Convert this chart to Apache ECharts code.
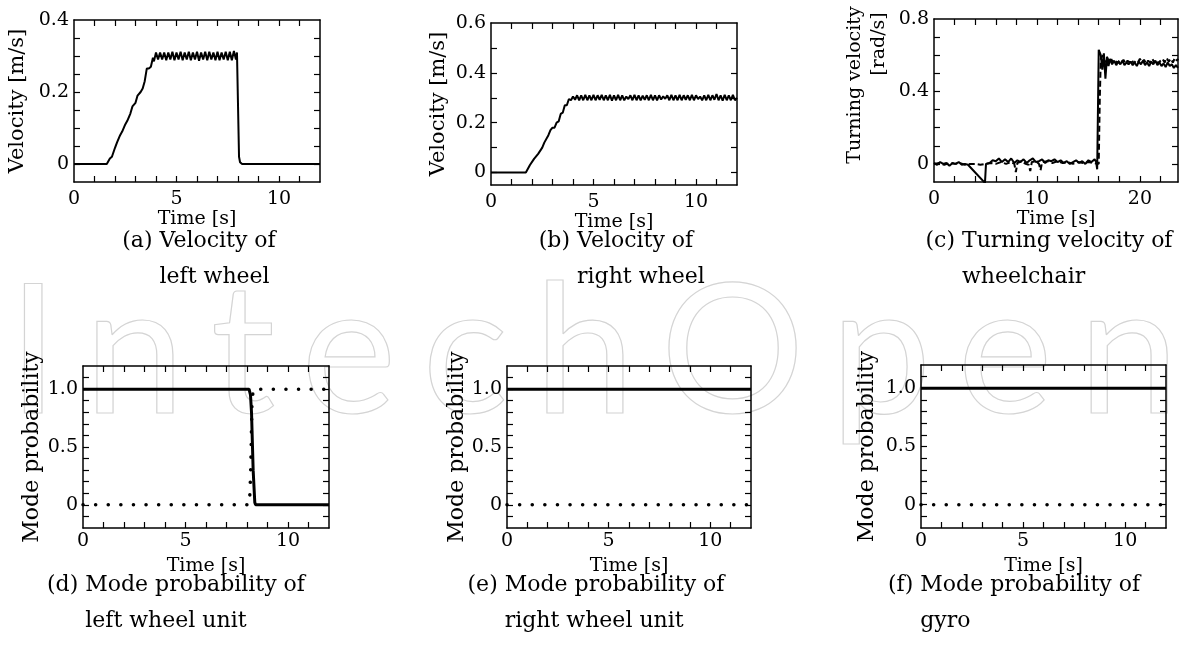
<!DOCTYPE html>
<html>
<head>
<meta charset="utf-8">
<script src="https://cdn.jsdelivr.net/npm/echarts@6/dist/echarts.min.js"></script>
<style>html,body{margin:0;padding:0;background:#fff;}</style>
</head>
<body>
<div id="main" style="width:1186px;height:656px;"></div>
<script type="text/javascript">
// (a) velocity of left wheel [t, m/s]
var leftWheel = [[0,0],[1.6,0],[1.75,0.015],[1.85,0.02],[2.0,0.045],[2.1,0.06],[2.25,0.08],[2.35,0.09],[2.5,0.11],[2.6,0.12],
  [2.75,0.14],[2.85,0.16],[3.0,0.17],[3.1,0.19],[3.25,0.2],[3.35,0.21],[3.45,0.23],[3.55,0.265],[3.65,0.265],[3.75,0.27],
  [3.85,0.295],[3.9,0.285],[4.0,0.31],[4.1,0.29],[4.2,0.31],[4.3,0.29],[4.4,0.31],[4.5,0.288],[4.6,0.31],[4.7,0.29],
  [4.8,0.312],[4.9,0.288],[5.0,0.31],[5.1,0.29],[5.2,0.312],[5.3,0.288],[5.4,0.31],[5.5,0.29],[5.6,0.312],[5.7,0.288],
  [5.8,0.31],[5.9,0.29],[6.0,0.312],[6.1,0.287],[6.2,0.31],[6.3,0.29],[6.4,0.312],[6.5,0.288],[6.6,0.312],[6.7,0.29],
  [6.8,0.31],[6.9,0.288],[7.0,0.312],[7.1,0.288],[7.2,0.31],[7.3,0.29],[7.4,0.312],[7.5,0.288],[7.6,0.312],[7.7,0.288],
  [7.8,0.314],[7.9,0.29],[7.95,0.31],[8.05,0.02],[8.1,0.005],[8.2,0],[12,0]];

// (b) velocity of right wheel
var rightWheel = [[0,0],[1.7,0],[1.9,0.03],[2.1,0.055],[2.3,0.075],[2.5,0.1],[2.6,0.12],[2.8,0.15],[2.9,0.17],[3.0,0.18],
  [3.1,0.18],[3.2,0.2],[3.3,0.205],[3.4,0.235],[3.5,0.24],[3.6,0.27],[3.7,0.27],[3.8,0.295],[3.9,0.29],[4.0,0.305],
  [4.1,0.292],[4.2,0.31],[4.3,0.29],[4.4,0.31],[4.5,0.29],[4.6,0.312],[4.7,0.29],[4.8,0.31],[4.9,0.29],[5.0,0.312],
  [5.1,0.29],[5.2,0.31],[5.3,0.292],[5.4,0.312],[5.5,0.29],[5.6,0.31],[5.7,0.29],[5.8,0.312],[5.9,0.288],[6.0,0.31],
  [6.1,0.29],[6.2,0.312],[6.3,0.29],[6.4,0.31],[6.5,0.29],[6.6,0.305],[6.7,0.295],[6.8,0.31],[6.9,0.29],[7.0,0.312],
  [7.1,0.29],[7.2,0.31],[7.3,0.29],[7.4,0.308],[7.5,0.292],[7.6,0.31],[7.7,0.29],[7.8,0.312],[7.9,0.29],[8.0,0.31],
  [8.1,0.29],[8.2,0.31],[8.3,0.293],[8.4,0.306],[8.5,0.296],[8.6,0.31],[8.7,0.29],[8.8,0.312],[8.9,0.29],[9.0,0.31],
  [9.1,0.29],[9.2,0.312],[9.3,0.29],[9.4,0.31],[9.5,0.292],[9.6,0.31],[9.7,0.29],[9.8,0.312],[9.9,0.29],[10.0,0.31],
  [10.1,0.295],[10.2,0.305],[10.3,0.29],[10.4,0.31],[10.5,0.29],[10.6,0.312],[10.7,0.29],[10.8,0.31],[10.9,0.292],[11.0,0.315],
  [11.1,0.29],[11.2,0.31],[11.3,0.288],[11.4,0.312],[11.5,0.29],[11.6,0.31],[11.7,0.29],[11.8,0.312],[11.9,0.29],[12.0,0.3]];

// (c) turning velocity of wheelchair: solid and dashed curves [t, rad/s]
var turnSolid = [[0,0.005],[0.3,-0.005],[0.6,0.01],[0.9,0],[1.2,0.005],[1.5,-0.01],[1.8,0.005],[2.1,0],[2.4,0.01],[2.7,-0.005],
  [3.0,0],[3.3,-0.005],[4.95,-0.105],[5.05,0],[5.4,0.005],[5.7,0.02],[6.0,0.015],[6.3,0.03],[6.6,0.01],[6.9,0.025],
  [7.2,0.01],[7.5,0.03],[7.8,0.005],[8.1,0.02],[8.4,0.01],[8.7,0.025],[9.0,0.005],[9.3,0.02],[9.6,0.03],[9.9,0.01],
  [10.2,0.015],[10.5,0.025],[10.8,0.005],[11.1,0.02],[11.4,0.015],[11.7,0.025],[12.0,0.01],[12.3,0.02],[12.6,0.005],[12.9,0.015],
  [13.2,0],[13.5,0.01],[13.8,0.02],[14.1,0.005],[14.4,0.015],[14.7,0],[15.0,0.02],[15.3,0.01],[15.6,0.025],[15.75,0.01],
  [15.85,-0.03],[16.0,0.63],[16.2,0.6],[16.35,0.52],[16.5,0.61],[16.65,0.47],[16.8,0.59],[16.95,0.54],[17.1,0.58],[17.3,0.55],
  [17.5,0.57],[17.7,0.545],[17.9,0.565],[18.1,0.55],[18.3,0.57],[18.5,0.545],[18.7,0.56],[18.9,0.55],[19.1,0.565],[19.3,0.545],
  [19.5,0.56],[19.7,0.54],[19.9,0.565],[20.1,0.55],[20.3,0.57],[20.5,0.545],[20.7,0.56],[20.9,0.54],[21.1,0.565],[21.3,0.55],
  [21.5,0.57],[21.7,0.545],[21.9,0.56],[22.1,0.54],[22.3,0.555],[22.5,0.535],[22.7,0.56],[22.9,0.54],[23.1,0.55],[23.3,0.53],
  [23.5,0.545],[23.7,0.53]];
var turnDashed = [[0,0],[0.5,0.005],[1.0,-0.005],[1.5,0.005],[2.0,0],[2.5,0.005],[3.0,-0.005],[3.5,0],[4.0,0],[4.5,-0.005],
  [5.0,0],[5.5,0.005],[6.0,0],[6.5,0.01],[7.0,0],[7.5,0.01],[7.8,0],[7.95,-0.045],[8.1,0.005],[8.5,0.015],
  [8.9,0],[9.2,-0.005],[9.35,-0.04],[9.5,0.01],[9.9,0.015],[10.2,0],[10.35,-0.035],[10.5,0.01],[11.0,0.015],[11.5,0.005],
  [12.0,0.015],[12.5,0.005],[13.0,0.01],[13.5,0],[14.0,0.01],[14.5,0.005],[15.0,0.01],[15.5,0.005],[16.0,0],[16.1,0.35],
  [16.2,0.58],[16.4,0.6],[16.6,0.56],[16.8,0.59],[17.0,0.565],[17.2,0.58],[17.4,0.56],[17.6,0.575],[17.8,0.555],[18.0,0.57],
  [18.2,0.56],[18.4,0.575],[18.6,0.555],[18.8,0.57],[19.0,0.56],[19.2,0.575],[19.4,0.555],[19.6,0.57],[19.8,0.56],[20.0,0.58],
  [20.2,0.56],[20.4,0.575],[20.6,0.555],[20.8,0.57],[21.0,0.56],[21.2,0.58],[21.4,0.56],[21.6,0.575],[21.8,0.555],[22.0,0.57],
  [22.2,0.58],[22.4,0.56],[22.6,0.585],[22.8,0.565],[23.0,0.58],[23.2,0.56],[23.4,0.585],[23.6,0.57],[23.7,0.58]];

// (d)(e)(f) mode probabilities: solid = normal mode, dotted = fault mode
var modeLeftSolid = [[0,1],[1.9,1],[1.95,0.985],[2.0,1],[8.1,1],[8.17,0.95],[8.22,0.8],[8.3,0.3],[8.38,0.02],[8.42,0],[12,0]];
var modeLeftDotted = [[0,0],[8.12,0],[8.18,0.3],[8.24,0.85],[8.3,1],[12,1]];
var modeRightSolid = [[0,1],[1.85,1],[1.9,0.99],[1.95,1],[12,1]];
var modeRightDotted = [[0,0],[12,0]];
var modeGyroSolid = [[0,1],[8.1,1],[8.15,0.99],[8.2,1],[12,1]];
var modeGyroDotted = [[0,0],[12,0]];

// tick positions and labelled values
var secTicks12 = [1,2,3,4,5,6,7,8,9,10,11];
var secLabels12 = [0,5,10];
var secTicks24 = [2,4,6,8,10,12,14,16,18,20,22];
var secLabels24 = [0,10,20];
var velTicksA = [0,0.05,0.1,0.15,0.2,0.25,0.3,0.35];
var velLabelsA = [0,0.2,0.4];
var velTicksB = [0,0.1,0.2,0.3,0.4,0.5];
var velLabelsB = [0,0.2,0.4,0.6];
var turnTicks = [0,0.1,0.2,0.3,0.4,0.5,0.6,0.7];
var turnLabels = [0,0.4,0.8];
var probTicks = [-0.1,0,0.1,0.2,0.3,0.4,0.5,0.6,0.7,0.8,0.9,1.0,1.1];
var probLabels = [0,0.5,1];

var serif = '"DejaVu Serif", serif';
var solid = {color:'#000', width:2, type:'solid'};
var dashed = {color:'#000', width:2, type:[6,3]};
var bold = {color:'#000', width:3, type:'solid'};
var dotted = {color:'#000', width:3.5, type:[0.1,12.5], cap:'round'};

var panels = [
  {box:[74,20,246,162], x:[0,12], y:[-0.05,0.4], xt:secTicks12, xl:secLabels12, yt:velTicksA, yl:velLabelsA,
   yname:'Velocity [m/s]', ySize:21, yGap:46, xGap:27, xm:8, lines:[[leftWheel, solid]]},
  {box:[491,23,246,162], x:[0,12], y:[-0.05,0.6], xt:secTicks12, xl:secLabels12, yt:velTicksB, yl:velLabelsB,
   yname:'Velocity [m/s]', ySize:21, yGap:42, xGap:27, xm:8, lines:[[rightWheel, solid]]},
  {box:[934,19,244,163], x:[0,23.7], y:[-0.1,0.8], xt:secTicks24, xl:secLabels24, yt:turnTicks, yl:turnLabels,
   yname:'', ySize:19, yGap:0, xGap:27, xm:8, lines:[[turnDashed, dashed],[turnSolid, solid]]},
  {box:[83,366,246,162], x:[0,12], y:[-0.2,1.2], xt:secTicks12, xl:secLabels12, yt:probTicks, yl:probLabels,
   yname:'Mode probability', ySize:22, yGap:40, xGap:29, xm:4, lines:[[modeLeftDotted, dotted],[modeLeftSolid, bold]]},
  {box:[507,366,244,162], x:[0,12], y:[-0.2,1.2], xt:secTicks12, xl:secLabels12, yt:probTicks, yl:probLabels,
   yname:'Mode probability', ySize:22, yGap:39, xGap:29, xm:4, lines:[[modeRightDotted, dotted],[modeRightSolid, bold]]},
  {box:[921,365,245,163], x:[0,12], y:[-0.2,1.2], xt:secTicks12, xl:secLabels12, yt:probTicks, yl:probLabels,
   yname:'Mode probability', ySize:22, yGap:43, xGap:29, xm:4, lines:[[modeGyroDotted, dotted],[modeGyroSolid, bold]]}
];

function fmt(v) { return v === 1 ? '1.0' : String(v); }

var grids = [], xAxes = [], yAxes = [], series = [];
panels.forEach(function (p, i) {
  grids.push({left:p.box[0], top:p.box[1], width:p.box[2], height:p.box[3], containLabel:false, outerBoundsMode:'none'});
  [0, 1].forEach(function (k) {
    xAxes.push({
      type:'value', gridIndex:i, position:k ? 'top' : 'bottom', min:p.x[0], max:p.x[1],
      name:k ? '' : 'Time [s]', nameLocation:'middle', nameGap:p.xGap,
      nameTextStyle:{fontFamily:serif, fontSize:19, color:'#000'},
      axisLine:{onZero:false, lineStyle:{color:'#000', width:1.5}},
      axisTick:{inside:true, length:6, customValues:p.xt, lineStyle:{color:'#000', width:1.2}},
      axisLabel:{show:!k, customValues:p.xl, margin:p.xm, formatter:fmt, fontFamily:serif, fontSize:19, color:'#000'},
      splitLine:{show:false}
    });
    yAxes.push({
      type:'value', gridIndex:i, position:k ? 'right' : 'left', min:p.y[0], max:p.y[1],
      name:k ? '' : p.yname, nameLocation:'middle', nameRotate:90, nameGap:p.yGap,
      nameTextStyle:{fontFamily:serif, fontSize:p.ySize, color:'#000'},
      axisLine:{onZero:false, lineStyle:{color:'#000', width:1.5}},
      axisTick:{inside:true, length:6, customValues:p.yt, lineStyle:{color:'#000', width:1.2}},
      axisLabel:{show:!k, customValues:p.yl, margin:5, formatter:fmt, fontFamily:serif, fontSize:19, color:'#000'},
      splitLine:{show:false}
    });
  });
  p.lines.forEach(function (l) {
    series.push({type:'line', xAxisIndex:2 * i, yAxisIndex:2 * i, data:l[0], symbol:'none',
      lineStyle:l[1], clip:true, silent:true});
  });
});

// captions under each panel, second line hangs after the tag
var captions = [
  ['(a)', 'Velocity of', 'left wheel', 199, 241],
  ['(b)', 'Velocity of', 'right wheel', 616, 241],
  ['(c)', 'Turning velocity of', 'wheelchair', 1049, 241],
  ['(d)', 'Mode probability of', 'left wheel unit', 176, 585],
  ['(e)', 'Mode probability of', 'right wheel unit', 596, 585],
  ['(f)', 'Mode probability of', 'gyro', 1014, 585]
];
var capFont = '22px "DejaVu Serif"';
var ctx = document.createElement('canvas').getContext('2d');

// faint outlined watermark, letters spread across the page width
var graphics = [];
var markFont = '400 180px Lato';
ctx.font = markFont;
var markText = 'IntechOpen';
var markW = ctx.measureText(markText).width;
var gap = (1172 - 8 - markW) / (markText.length - 1);
var mx = 8;
markText.split('').forEach(function (ch) {
  graphics.push({type:'text', x:mx, y:355, z:0, silent:true,
    style:{text:ch, font:markFont, fill:'rgba(0,0,0,0)', stroke:'#d4d4d4', lineWidth:1.2,
           textAlign:'left', textVerticalAlign:'middle'}});
  mx += ctx.measureText(ch).width + gap;
});

ctx.font = capFont;
captions.forEach(function (c) {
  var first = c[0] + ' ' + c[1];
  var left = c[3] - ctx.measureText(first).width / 2;
  var indent = ctx.measureText(c[0] + ' ').width;
  graphics.push({type:'text', x:left, y:c[4], style:{text:first, font:capFont, fill:'#000', textVerticalAlign:'middle'}});
  graphics.push({type:'text', x:left + indent, y:c[4] + 36, style:{text:c[2], font:capFont, fill:'#000', textVerticalAlign:'middle'}});
});
// two-line name of the turning velocity axis
graphics.push({type:'text', x:855, y:85, rotation:Math.PI / 2,
  style:{text:'Turning velocity', font:'19px "DejaVu Serif"', fill:'#000', textAlign:'center', textVerticalAlign:'middle'}});
graphics.push({type:'text', x:879, y:44, rotation:Math.PI / 2,
  style:{text:'[rad/s]', font:'19px "DejaVu Serif"', fill:'#000', textAlign:'center', textVerticalAlign:'middle'}});

var myChart = echarts.init(document.getElementById('main'));
myChart.setOption({
  animation:false,
  backgroundColor:'#fff',
  grid:grids,
  xAxis:xAxes,
  yAxis:yAxes,
  series:series,
  graphic:graphics
});
</script>
</body>
</html>
